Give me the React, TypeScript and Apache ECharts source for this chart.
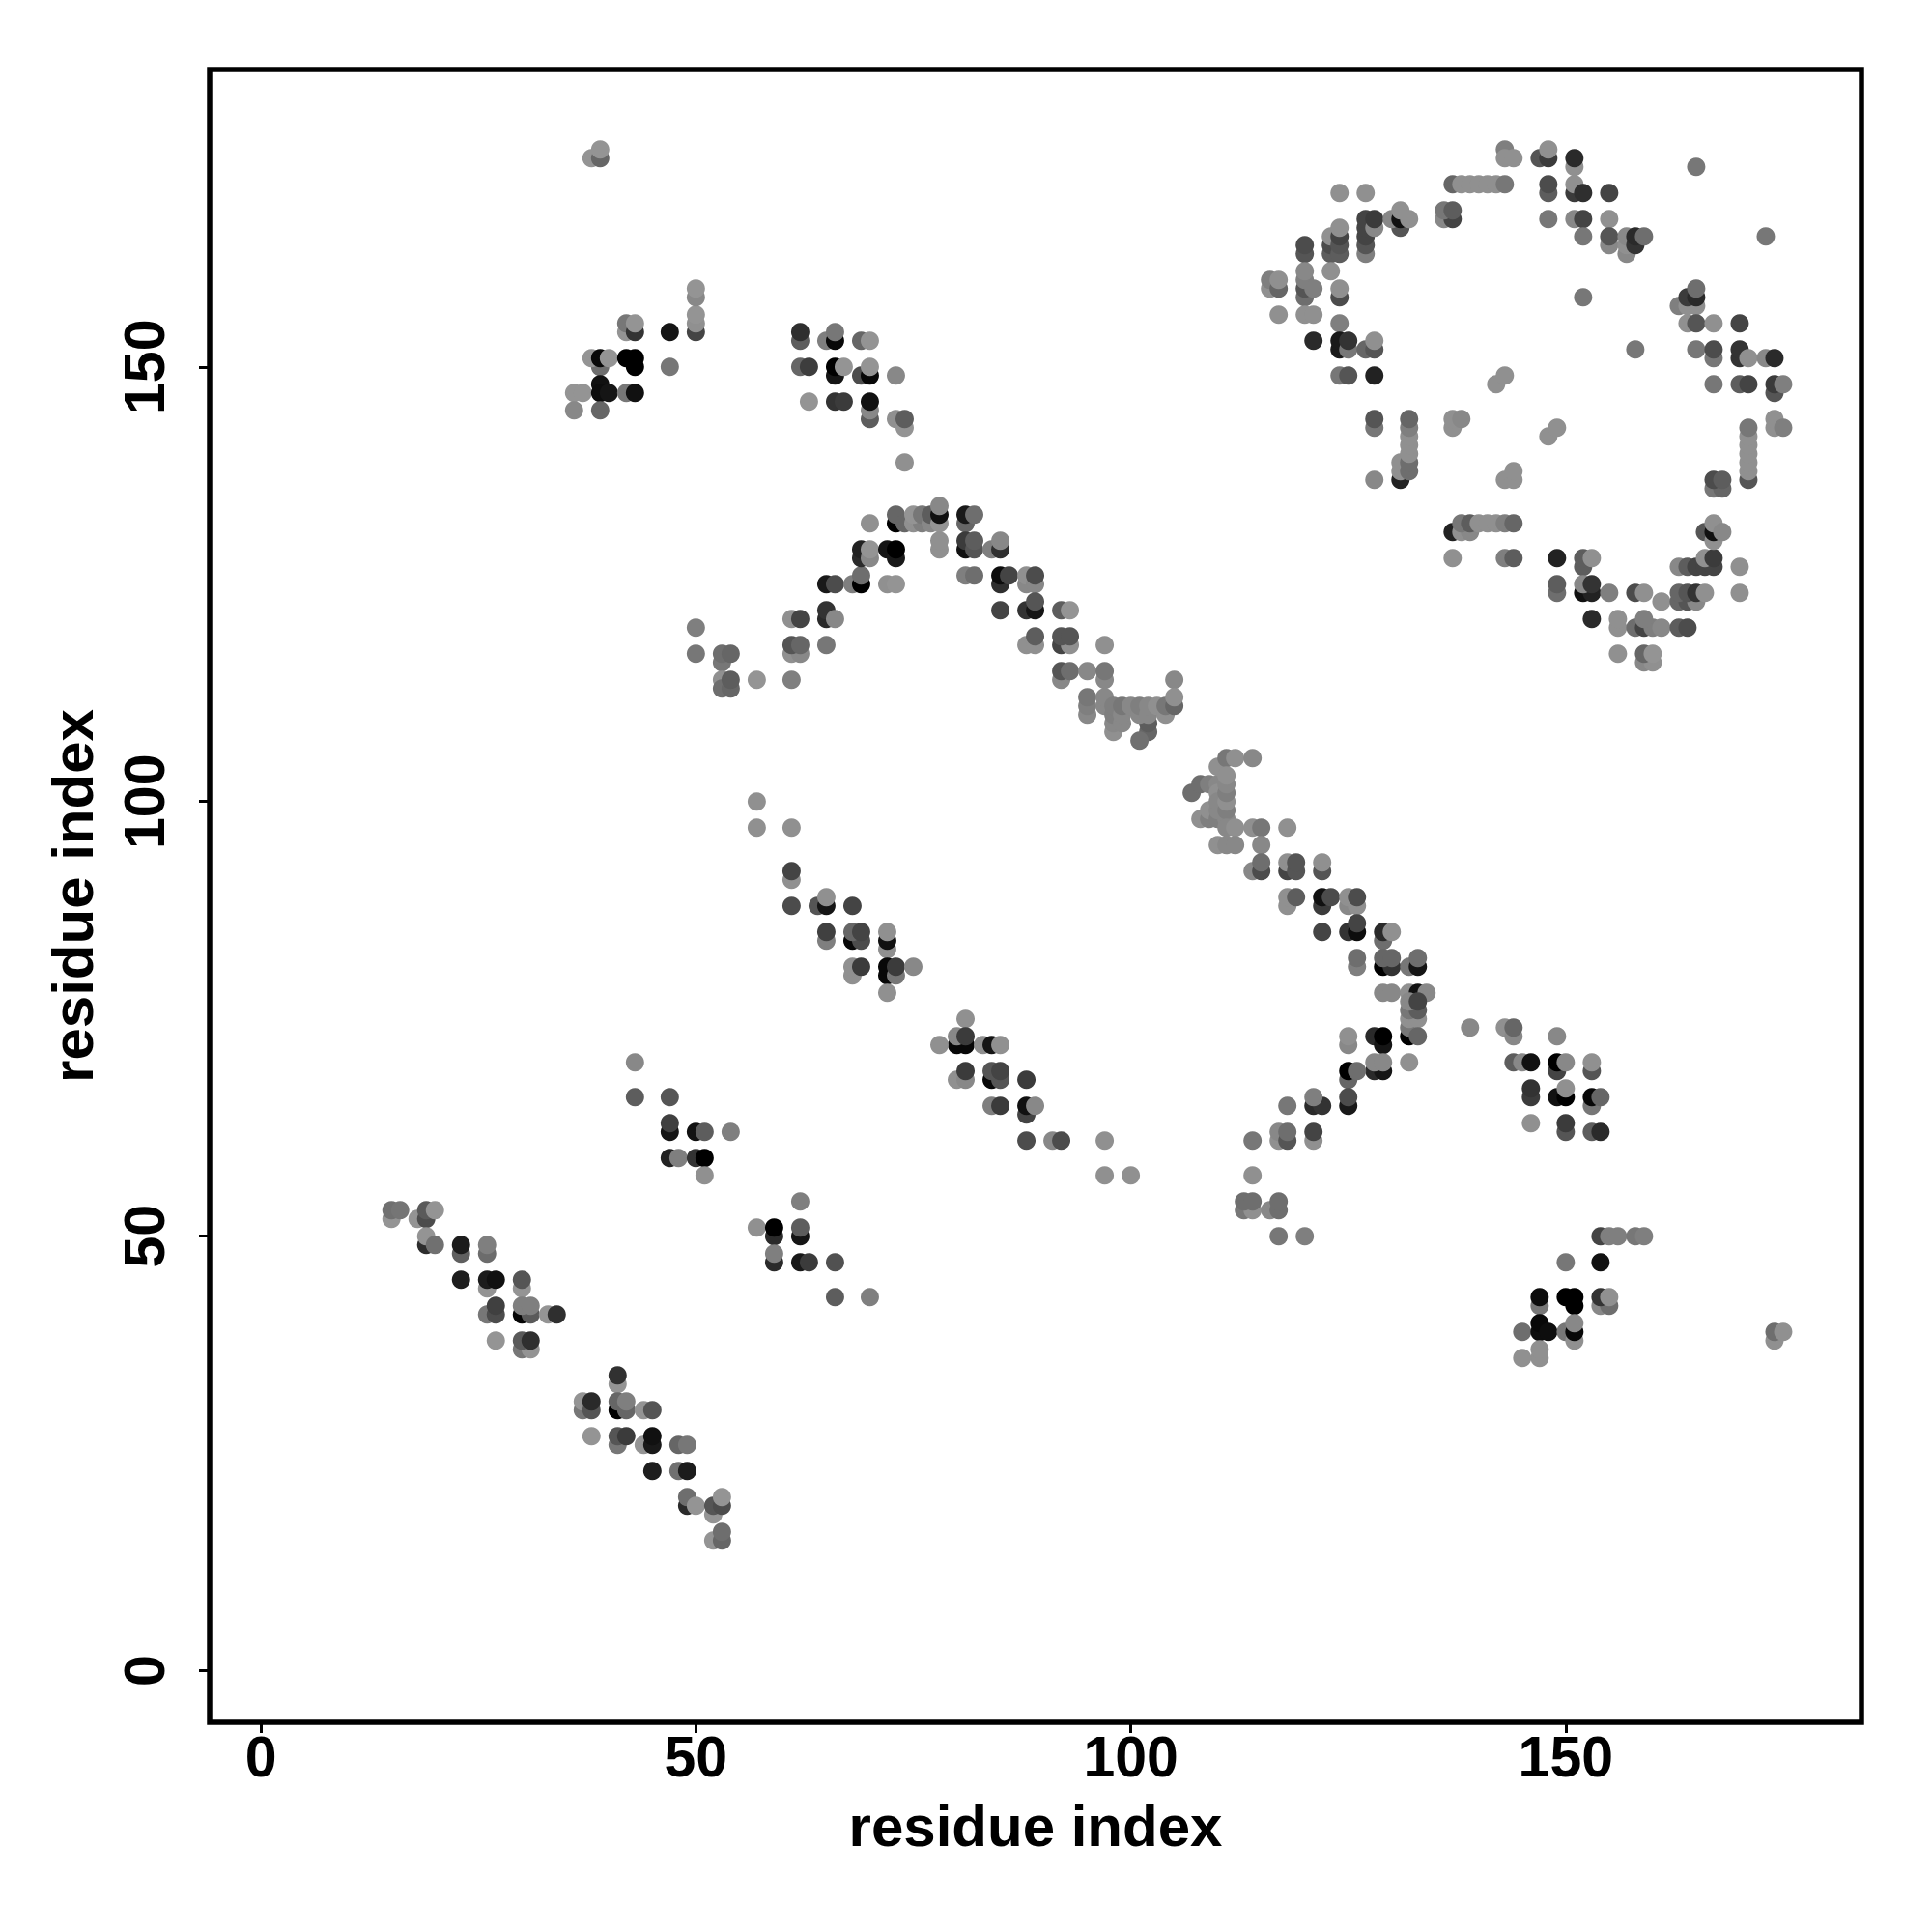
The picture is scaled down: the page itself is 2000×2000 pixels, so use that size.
import React, { useEffect, useRef } from "react";
import * as echarts from "echarts";

type Contact = [number, number, number]; // residue i, residue j, grey level

const xTicks = [0, 50, 100, 150];
const yTicks = [0, 50, 100, 150];
const axisTitle = "residue index";

const bandLowLeft: Contact[] = [
  [15,52,0x8c],[15,53,0x6a],[16,53,0x6e],[18,52,0x8c],[19,52,0x48],[19,53,0x55],[20,53,0x8c],
  [19,49,0x2a],[19,50,0x8c],[20,49,0x6a],[23,48,0x5a],[23,49,0x1a],[26,48,0x66],[26,49,0x78],
  [23,45,0x1c],[26,44,0x8c],[26,45,0x1a],[27,45,0x10],[30,44,0x8c],[30,45,0x50],
  [26,41,0x70],[27,41,0x48],[27,42,0x3c],[30,41,0x05],[31,41,0x55],[30,42,0x78],[31,42,0x78],
  [33,41,0x8c],[34,41,0x2c],[27,38,0x8c],[30,37,0x70],[31,37,0x8c],[30,38,0x55],[31,38,0x2c],
  [41,33,0x8c],[41,34,0x2e],[37,30,0x70],[37,31,0x8c],[38,30,0x50],[38,31,0x28],
  [41,30,0x00],[42,30,0x60],[41,31,0x60],[42,31,0x78],[44,30,0x8c],[45,30,0x50],
  [38,27,0x8c],[41,26,0x70],[41,27,0x50],[42,27,0x38],[44,26,0x8c],[45,26,0x18],[45,27,0x10],
  [48,26,0x60],[49,26,0x70],[45,23,0x1c],[48,23,0x6a],[49,23,0x1a],
  [49,19,0x28],[49,20,0x68],[50,19,0x8c],[52,18,0x8c],[52,19,0x50],[53,19,0x48],[53,20,0x8c],
  [52,15,0x8c],[53,15,0x60],[53,16,0x68],
];

const patchTopLeft: Contact[] = [
  [38,174,0x8c],[39,174,0x60],[39,175,0x8c],
  [42,154,0x8c],[42,155,0x70],[43,154,0x30],[43,155,0x8c],[47,154,0x14],
  [50,154,0x40],[50,155,0x88],[50,156,0x8c],[50,158,0x80],[50,159,0x8c],
  [39,150,0x68],[38,151,0x8c],[39,151,0x08],[40,151,0x8c],[42,151,0x00],[43,150,0x00],[43,151,0x00],[47,150,0x70],
  [36,147,0x8c],[37,147,0x8c],[39,148,0x10],[39,147,0x0c],[40,147,0x14],[42,147,0x70],[43,147,0x10],
  [36,145,0x80],[39,145,0x60],
];

const patchTopMiddle: Contact[] = [
  [62,153,0x58],[62,154,0x2c],[65,153,0x78],[66,153,0x08],[66,154,0x70],[69,153,0x60],[70,153,0x8c],
  [62,150,0x60],[63,150,0x3a],[66,149,0x14],[66,150,0x00],[67,150,0x8c],[69,149,0x48],[70,149,0x08],[70,150,0x8c],[73,149,0x80],
  [63,146,0x8c],[66,146,0x30],[67,146,0x38],[70,144,0x58],[70,145,0x80],[70,146,0x10],
  [73,144,0x88],[74,143,0x8c],[74,144,0x58],[74,139,0x88],
];

const archRise: Contact[] = [
  [50,120,0x78],[50,117,0x70],[53,116,0x70],[53,117,0x68],[54,117,0x60],[53,114,0x88],[53,113,0x68],[54,113,0x60],[54,114,0x58],
  [57,114,0x8c],[61,114,0x78],[61,121,0x88],[62,121,0x40],[61,117,0x88],[62,117,0x80],[61,118,0x50],[62,118,0x60],[65,118,0x70],
  [65,121,0x28],[65,122,0x30],[66,121,0x80],[65,125,0x18],[66,125,0x48],[68,125,0x78],[69,125,0x00],[69,126,0x68],
  [72,125,0x88],[73,125,0x8c],[69,128,0x28],[69,129,0x20],[70,128,0x80],[70,129,0x8c],[72,129,0x14],[73,128,0x18],[73,129,0x00],
  [70,132,0x88],[73,132,0x00],[73,133,0x60],[74,132,0x60],[75,132,0x88],[76,132,0x78],[75,133,0x8c],[76,133,0x70],[77,132,0x80],[77,133,0x58],
  [78,132,0x8c],[78,133,0x10],[78,134,0x80],[78,129,0x88],[78,130,0x88],
];

const archFall: Contact[] = [
  [81,132,0x60],[81,133,0x18],[82,133,0x68],[81,129,0x10],[81,130,0x38],[82,129,0x50],[82,130,0x58],[84,129,0x78],[85,129,0x2c],[85,130,0x80],
  [81,126,0x78],[82,126,0x68],[85,125,0x2c],[85,126,0x0c],[86,126,0x40],[88,125,0x80],[88,126,0x88],[89,125,0x80],[89,126,0x48],
  [85,122,0x40],[88,122,0x30],[89,122,0x14],[89,123,0x50],[92,122,0x58],[93,122,0x8c],
  [88,118,0x88],[89,118,0x88],[89,119,0x58],[92,118,0x40],[93,118,0x88],[92,119,0x50],[93,119,0x50],[97,118,0x88],
  [92,114,0x80],[92,115,0x50],[93,115,0x68],[95,115,0x80],[97,114,0x80],[97,115,0x70],[105,114,0x80],
  [95,110,0x80],[95,111,0x78],[95,112,0x70],[97,111,0x80],[97,112,0x80],
  [102,108,0x60],[102,109,0x58],[101,107,0x6a],[98,108,0x88],[98,109,0x80],[98,110,0x78],[98,111,0x78],[99,109,0x80],[99,110,0x80],[99,111,0x70],
  [100,111,0x80],[101,110,0x80],[101,111,0x78],[102,110,0x80],[102,111,0x80],[103,111,0x88],[104,110,0x88],[104,111,0x70],[105,111,0x60],[105,112,0x88],
];

const diagonalLong: Contact[] = [
  [107,101,0x68],[108,102,0x68],[109,102,0x78],[110,102,0x80],[110,101,0x88],[110,104,0x88],[111,105,0x70],[112,105,0x88],[114,105,0x80],
  [108,98,0x88],[109,98,0x78],[109,99,0x88],[110,98,0x78],[110,99,0x80],[110,100,0x80],[111,98,0x80],[111,99,0x78],[111,100,0x88],[111,101,0x78],[111,102,0x80],[111,103,0x88],
  [111,97,0x80],[112,97,0x88],[114,97,0x88],[115,97,0x70],[118,97,0x88],[110,95,0x88],[111,95,0x80],[112,95,0x80],[115,95,0x80],
  [114,92,0x80],[115,92,0x48],[115,93,0x68],[118,92,0x40],[118,93,0x88],[119,92,0x50],[119,93,0x50],[122,92,0x50],[122,93,0x88],
  [118,88,0x88],[118,89,0x88],[119,89,0x58],[122,88,0x38],[122,89,0x10],[123,89,0x48],[125,88,0x80],[126,88,0x88],[125,89,0x88],[126,89,0x48],
  [122,85,0x40],[125,85,0x30],[126,85,0x0c],[126,86,0x40],[129,84,0x68],[129,85,0x28],[130,85,0x88],
  [126,81,0x78],[126,82,0x68],[129,81,0x00],[130,81,0x30],[129,82,0x60],[130,82,0x60],[132,81,0x70],[133,81,0x14],[133,82,0x68],
  [129,78,0x80],[130,78,0x80],[132,78,0x88],[133,78,0x10],[134,78,0x80],
  [132,73,0x00],[132,74,0x70],[132,75,0x88],[133,75,0x88],[132,76,0x70],[133,76,0x58],[132,77,0x80],[133,77,0x40],[133,73,0x60],
];

const antiBandRight: Contact[] = [
  [139,74,0x80],[143,74,0x88],[144,73,0x80],[144,74,0x60],[149,73,0x80],
  [125,72,0x80],[125,73,0x88],[128,73,0x28],[129,72,0x14],[129,73,0x00],
  [132,70,0x88],[128,69,0x28],[129,69,0x14],[128,70,0x80],[129,70,0x80],[125,68,0x60],[125,69,0x00],[126,69,0x68],
  [125,65,0x18],[125,66,0x48],[121,65,0x28],[122,65,0x30],[121,66,0x78],[118,65,0x70],
  [117,61,0x88],[117,62,0x80],[118,61,0x50],[118,62,0x68],[121,61,0x88],[121,62,0x40],[114,61,0x70],[114,57,0x88],
  [113,53,0x70],[114,53,0x88],[113,54,0x68],[114,54,0x68],[116,53,0x80],[117,53,0x68],[117,54,0x68],[117,50,0x70],[120,50,0x78],
];

const patchRight: Contact[] = [
  [144,70,0x58],[145,70,0x80],[146,70,0x10],[149,69,0x40],[149,70,0x00],[150,70,0x80],[153,69,0x50],[153,70,0x88],
  [146,66,0x38],[146,67,0x30],[149,66,0x10],[150,66,0x00],[150,67,0x88],[153,65,0x70],[153,66,0x08],[154,66,0x60],
  [146,63,0x88],[150,62,0x50],[150,63,0x38],[153,62,0x58],[154,62,0x28],
  [154,50,0x40],[155,50,0x78],[156,50,0x78],[158,50,0x70],[159,50,0x78],[150,47,0x70],[154,47,0x10],
  [147,42,0x70],[147,43,0x0c],[150,43,0x00],[151,42,0x00],[151,43,0x00],[154,42,0x80],[155,42,0x68],[154,43,0x30],[155,43,0x88],
  [145,39,0x68],[147,39,0x0c],[147,40,0x08],[148,39,0x0c],[150,39,0x70],[151,38,0x88],[151,39,0x08],[151,40,0x80],
  [147,36,0x88],[147,37,0x88],[145,36,0x88],[174,38,0x88],[174,39,0x68],[175,39,0x88],
];

const bandMiddle: Contact[] = [
  [57,100,0x88],[57,97,0x88],[61,97,0x88],[61,91,0x88],[61,92,0x40],[61,88,0x48],[64,88,0x50],[65,88,0x14],[65,89,0x88],[68,88,0x40],
  [65,84,0x78],[65,85,0x3c],[68,84,0x08],[69,84,0x48],[68,85,0x60],[69,85,0x40],[72,83,0x88],[72,84,0x10],[72,85,0x88],
  [68,80,0x88],[68,81,0x88],[69,81,0x38],[72,80,0x08],[72,81,0x08],[73,80,0x70],[73,81,0x38],[75,81,0x80],[72,78,0x88],
  [81,75,0x88],[80,72,0x08],[81,72,0x08],[80,73,0x80],[81,73,0x38],[78,72,0x88],[83,72,0x88],[84,72,0x14],[85,72,0x88],
  [80,68,0x88],[81,68,0x80],[81,69,0x38],[84,68,0x08],[85,68,0x50],[84,69,0x50],[85,69,0x40],[88,68,0x38],
  [84,65,0x78],[85,65,0x38],[88,64,0x40],[88,65,0x10],[89,65,0x80],[88,61,0x48],[91,61,0x80],[92,61,0x48],[97,61,0x88],[97,57,0x88],[100,57,0x88],
  [43,70,0x80],[43,66,0x58],[47,66,0x50],[47,62,0x14],[47,63,0x3c],[50,62,0x10],[51,62,0x58],[54,62,0x78],
  [47,59,0x20],[48,59,0x78],[50,59,0x30],[51,59,0x00],[51,57,0x88],
  [57,51,0x88],[59,50,0x28],[59,51,0x00],[62,50,0x14],[62,51,0x58],[62,54,0x78],[59,47,0x28],[59,48,0x78],[62,47,0x18],[63,47,0x38],[66,47,0x4c],[66,43,0x58],[70,43,0x78],
];

const ringUpperLeft: Contact[] = [
  [124,170,0x88],[127,170,0x88],[143,175,0x78],[143,174,0x88],[144,174,0x88],[147,174,0x50],[148,174,0x38],[148,175,0x88],
  [137,171,0x60],[138,171,0x88],[139,171,0x88],[140,171,0x88],[141,171,0x88],[142,171,0x88],[143,171,0x70],
  [136,167,0x80],[137,167,0x40],[136,168,0x70],[137,168,0x58],
  [127,163,0x78],[127,164,0x50],[127,165,0x40],[127,166,0x40],[127,167,0x40],[128,166,0x80],[128,167,0x38],
  [131,166,0x50],[130,167,0x80],[131,167,0x10],[131,168,0x88],[132,167,0x88],
  [123,163,0x58],[123,164,0x48],[123,165,0x88],[124,163,0x58],[124,164,0x50],[124,165,0x40],[124,166,0x88],
  [120,163,0x50],[120,164,0x48],[120,158,0x68],[120,159,0x50],[120,160,0x78],[120,161,0x80],[121,159,0x78],[123,161,0x88],
  [116,159,0x88],[116,160,0x78],[117,159,0x60],[117,160,0x88],[124,158,0x48],[124,159,0x88],
  [117,156,0x88],[120,156,0x88],[121,156,0x88],[124,155,0x78],[121,153,0x28],[124,152,0x18],[124,153,0x18],[125,152,0x70],[125,153,0x30],
  [127,152,0x60],[128,152,0x50],[128,153,0x88],[124,149,0x70],[125,149,0x50],[128,149,0x20],
  [142,148,0x88],[143,149,0x88],[128,143,0x70],[128,144,0x50],[131,137,0x20],[128,137,0x80],[131,138,0x88],[131,139,0x88],
  [132,138,0x68],[132,139,0x68],[132,140,0x88],[132,141,0x88],[132,142,0x88],[132,143,0x78],[132,144,0x60],
  [137,143,0x88],[137,144,0x88],[138,144,0x80],[148,142,0x88],[149,143,0x88],[143,137,0x88],[144,137,0x88],[144,138,0x88],
];

const ringUpperRight: Contact[] = [
  [151,173,0x88],[151,174,0x28],[148,170,0x58],[148,171,0x48],[151,170,0x38],[151,171,0x88],[152,170,0x2c],[155,170,0x40],
  [148,167,0x70],[151,167,0x80],[152,167,0x40],[155,167,0x88],[152,165,0x70],[155,164,0x80],[155,165,0x50],
  [157,163,0x80],[157,164,0x88],[157,165,0x80],[158,164,0x30],[158,165,0x28],[159,165,0x68],[152,158,0x70],[165,173,0x70],[173,165,0x70],[158,152,0x70],
  [163,157,0x78],[164,157,0x88],[165,157,0x88],[164,158,0x38],[165,158,0x28],[165,159,0x68],
  [164,155,0x88],[165,155,0x50],[167,155,0x88],[170,155,0x40],[165,152,0x70],[167,151,0x70],[167,152,0x48],
  [170,151,0x30],[170,152,0x30],[171,151,0x88],[173,151,0x80],[174,151,0x28],
  [167,148,0x70],[170,148,0x58],[171,148,0x40],[174,147,0x50],[174,148,0x38],[175,148,0x78],
  [174,143,0x88],[174,144,0x88],[175,143,0x78],
  [171,137,0x50],[171,138,0x88],[171,139,0x88],[171,140,0x88],[171,141,0x88],[171,142,0x88],[171,143,0x70],
  [167,136,0x70],[168,136,0x60],[167,137,0x48],[168,137,0x58],
];

const ringLower: Contact[] = [
  [137,131,0x20],[138,131,0x88],[139,131,0x80],[138,132,0x70],[139,132,0x58],[140,132,0x88],[141,132,0x88],[142,132,0x88],[143,132,0x78],[144,132,0x60],
  [137,128,0x88],[143,128,0x78],[144,128,0x58],[149,128,0x20],[152,127,0x58],[152,128,0x58],[153,128,0x88],
  [149,124,0x68],[149,125,0x58],[152,124,0x10],[153,124,0x20],[152,125,0x80],[153,125,0x30],[155,124,0x78],[158,124,0x48],[159,124,0x88],[161,123,0x88],
  [153,121,0x28],[156,120,0x88],[156,121,0x88],[158,120,0x68],[159,120,0x40],[160,120,0x78],[159,121,0x78],[161,120,0x80],[163,120,0x58],[164,120,0x48],
  [156,117,0x88],[159,116,0x80],[160,116,0x88],[159,117,0x60],[160,117,0x8c],
  [163,127,0x80],[164,127,0x58],[165,127,0x40],[166,127,0x40],[167,127,0x40],[166,128,0x88],[167,128,0x38],
  [163,123,0x60],[164,123,0x50],[165,123,0x80],[163,124,0x60],[164,124,0x50],[165,124,0x30],[166,124,0x88],[170,127,0x88],[170,124,0x88],
  [166,131,0x50],[167,130,0x88],[167,131,0x10],[167,132,0x88],[168,131,0x80],
];

const allContacts: Contact[] = [
  ...bandLowLeft, ...patchTopLeft, ...patchTopMiddle, ...archRise, ...archFall, ...diagonalLong,
  ...antiBandRight, ...patchRight, ...bandMiddle, ...ringUpperLeft, ...ringUpperRight, ...ringLower,
];

const FONT = "'Liberation Sans', Arial, sans-serif";
const greyOf = (g: number) => {
  const v = Math.min(255, Math.round(g * 1.06));
  return `rgb(${v},${v},${v})`;
};

export default function App() {
  const ref = useRef<HTMLDivElement>(null);
  useEffect(() => {
    document.body.style.margin = "0";
    const chart = echarts.init(ref.current!, undefined, { renderer: "svg" });
    const tick = { show: true, length: 11, lineStyle: { color: "#000", width: 3 } };
    chart.setOption({
      animation: false,
      backgroundColor: "#fff",
      grid: { left: 217, top: 72, width: 1710, height: 1711, show: true, borderColor: "#000", borderWidth: 5.5, backgroundColor: "transparent" },
      xAxis: {
        type: "value", min: -5.9, max: 184, splitLine: { show: false },
        axisLine: { show: false, onZero: false },
        axisTick: { ...tick, customValues: xTicks },
        axisLabel: { customValues: xTicks, margin: 6, color: "#000", fontFamily: FONT, fontWeight: "bold", fontSize: 59 },
        name: axisTitle, nameLocation: "middle", nameGap: 77,
        nameTextStyle: { color: "#000", fontFamily: FONT, fontWeight: "bold", fontSize: 60 },
      },
      yAxis: {
        type: "value", min: -5.93, max: 184.2, splitLine: { show: false },
        axisLine: { show: false, onZero: false },
        axisTick: { ...tick, customValues: yTicks },
        axisLabel: { customValues: yTicks, rotate: 90, margin: 38, align: "center", verticalAlign: "bottom", color: "#000", fontFamily: FONT, fontWeight: "bold", fontSize: 59 },
        name: axisTitle, nameLocation: "middle", nameGap: 112, nameRotate: 90,
        nameTextStyle: { color: "#000", fontFamily: FONT, fontWeight: "bold", fontSize: 60 },
      },
      series: [{
        type: "scatter", symbol: "circle", symbolSize: 19, silent: true, itemStyle: { opacity: 1 },
        data: allContacts.map(([x, y, g]) => ({ value: [x, y], itemStyle: { color: greyOf(g), opacity: 1 } })),
      }],
    });
    return () => chart.dispose();
  }, []);
  return <div ref={ref} style={{ position: "absolute", left: 0, top: 0, width: 2000, height: 2000 }} />;
}
